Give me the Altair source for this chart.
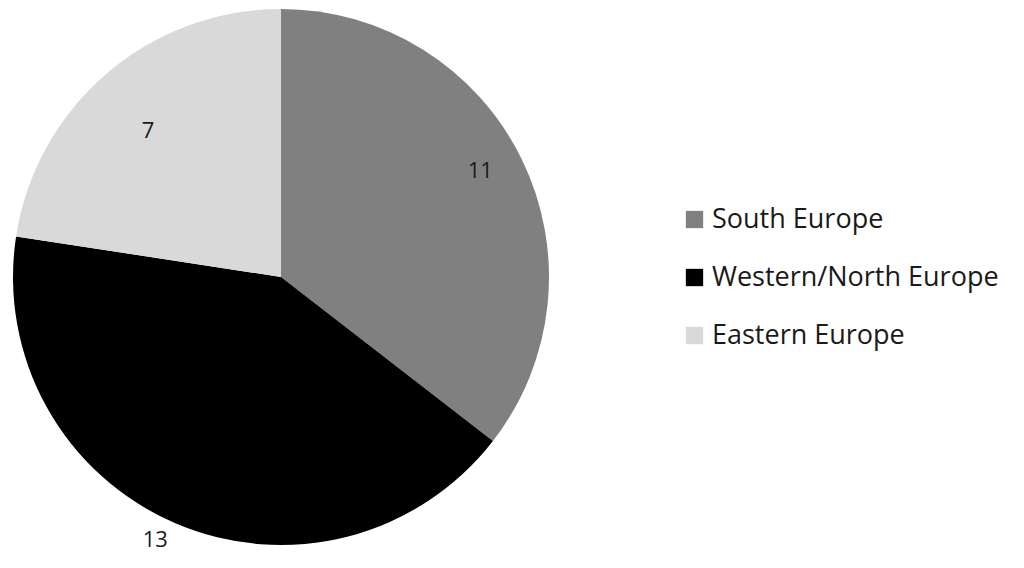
import altair as alt
import pandas as pd

regions = ["South Europe", "Western/North Europe", "Eastern Europe"]
counts = [11, 13, 7]
colors = ["#808080", "#000000", "#d9d9d9"]

df = pd.DataFrame({"region": regions, "count": counts, "idx": list(range(len(regions)))})

font = "Open Sans"

base = alt.Chart(df).encode(
    theta=alt.Theta("count:Q", stack=True),
    order=alt.Order("idx:Q"),
)

arcs = base.mark_arc(outerRadius=268, stroke=None).encode(
    color=alt.Color(
        "region:N",
        scale=alt.Scale(domain=regions, range=colors),
        sort=regions,
        legend=alt.Legend(
            title=None,
            orient="none",
            legendX=673,
            legendY=198,
            symbolType="square",
            symbolSize=300,
            symbolStrokeWidth=0,
            labelFont=font,
            labelFontSize=27,
            labelColor="#1a1a1a",
            rowPadding=30,
            labelOffset=4,
            labelLimit=400,
        ),
    )
)

label_radius = {"South Europe": 222, "Western/North Europe": 286, "Eastern Europe": 195}
label_shift = {"South Europe": (0, -8), "Western/North Europe": (-13, 0), "Eastern Europe": (-6, 2)}
labels = []
for r in regions:
    dx, dy = label_shift[r]
    labels.append(
        base.mark_text(font=font, fontSize=22, color="#1a1a1a", dx=dx, dy=dy)
        .encode(
            text=alt.Text("count:Q"),
            radius=alt.value(label_radius[r]),
            opacity=alt.condition(alt.datum.region == r, alt.value(1), alt.value(0)),
        )
    )

chart = alt.layer(arcs, *labels).properties(
    width=546, height=538,
    padding={"left": 0, "top": 0, "right": 0, "bottom": 14},
).configure_view(stroke=None)

chart.save("out.html", embed_options={"renderer": "svg", "actions": False})
